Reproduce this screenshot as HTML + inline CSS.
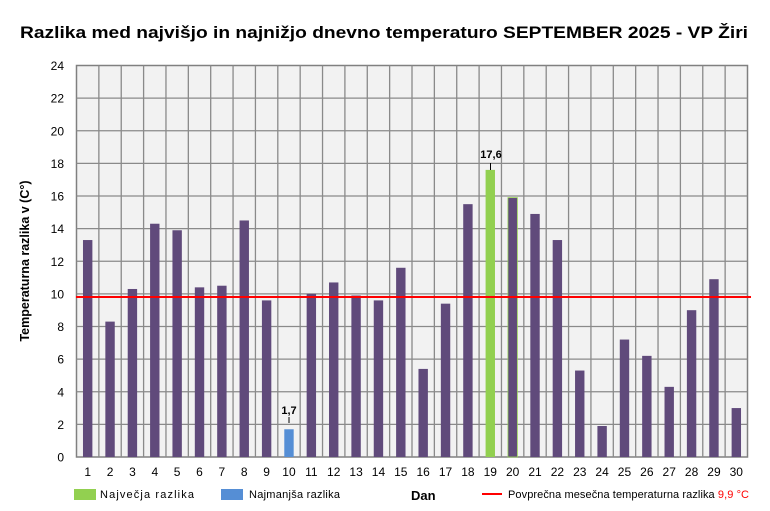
<!DOCTYPE html><html><head><meta charset="utf-8"><style>body{margin:0;background:#fff}svg{display:block;font-family:"Liberation Sans","DejaVu Sans",sans-serif}</style></head><body>
<svg width="770" height="511" viewBox="0 0 770 511" xmlns="http://www.w3.org/2000/svg">
<text x="20" y="38" textLength="728" lengthAdjust="spacingAndGlyphs" font-size="16.5" font-weight="bold" fill="#000">Razlika med najvišjo  in najnižjo  dnevno  temperaturo  SEPTEMBER  2025 - VP Žiri</text>
<rect x="76.5" y="65.5" width="671" height="391.5" fill="#f2f2f2" stroke="#808080" stroke-width="1.5"/>
<g id="g" stroke="#8a8a8a" stroke-width="1.3"></g>
<g id="b"></g>
<line x1="76" y1="297" x2="751" y2="297" stroke="#ff0000" stroke-width="2"/>
<g id="t" font-size="12" fill="#000"></g>
<text transform="translate(29,261) rotate(-90)" text-anchor="middle" font-size="12.5" font-weight="bold">Temperaturna razlika v (C°)</text>
<text x="289" y="414" text-anchor="middle" font-size="11" font-weight="bold">1,7</text>
<line x1="289" y1="417" x2="289" y2="423" stroke="#000"/>
<text x="491" y="158" text-anchor="middle" font-size="11" font-weight="bold">17,6</text>
<line x1="490.5" y1="163" x2="490.5" y2="170" stroke="#000"/>
<rect x="74" y="489" width="22" height="11" fill="#92d050"/>
<text x="100" y="498" font-size="11" textLength="94">Največja  razlika</text>
<rect x="221" y="489" width="22" height="11" fill="#558ed5"/>
<text x="249" y="498" font-size="11" textLength="91">Najmanjša razlika</text>
<text x="411" y="500" font-size="13" font-weight="bold">Dan</text>
<line x1="482" y1="494" x2="502" y2="494" stroke="#ff0000" stroke-width="2"/>
<text x="508" y="498" font-size="11" textLength="241">Povprečna mesečna temperaturna razlika <tspan fill="#ff0000">9,9 °C</tspan></text>
</svg>
<script>
var v=[13.3,8.3,10.3,14.3,13.9,10.4,10.5,14.5,9.6,1.7,10.0,10.7,9.9,9.6,11.6,5.4,9.4,15.5,17.6,15.9,14.9,13.3,5.3,1.9,7.2,6.2,4.3,9.0,10.9,3.0];
var L=76.5,T=65.5,W=671,H=391.5,cw=W/30,ns="http://www.w3.org/2000/svg";
function el(p,n,a,tx){var e=document.createElementNS(ns,n);for(var k in a)e.setAttribute(k,a[k]);if(tx!=null)e.textContent=tx;document.getElementById(p).appendChild(e);}
for(var i=1;i<30;i++){var x=L+i*cw;el("g","line",{x1:x,y1:T,x2:x,y2:T+H});}
for(var j=1;j<12;j++){var y=T+j*H/12;el("g","line",{x1:L,y1:y,x2:L+W,y2:y});}
for(var j=0;j<=12;j++){el("t","text",{x:64,y:T+H-j*H/12+4.5,"text-anchor":"end"},String(j*2));}
for(var i=0;i<30;i++){var c=L+(i+0.5)*cw,h=v[i]*H/24,f=i==18?"#92d050":i==9?"#558ed5":"#604a7b";
var a={x:c-4.7,y:T+H-h,width:9.4,height:h,fill:f};if(i==19){a.stroke="#92d050";a["stroke-width"]=0.8;}
el("b","rect",a);el("t","text",{x:c,y:476,"text-anchor":"middle"},String(i+1));}
</script>
</body></html>
